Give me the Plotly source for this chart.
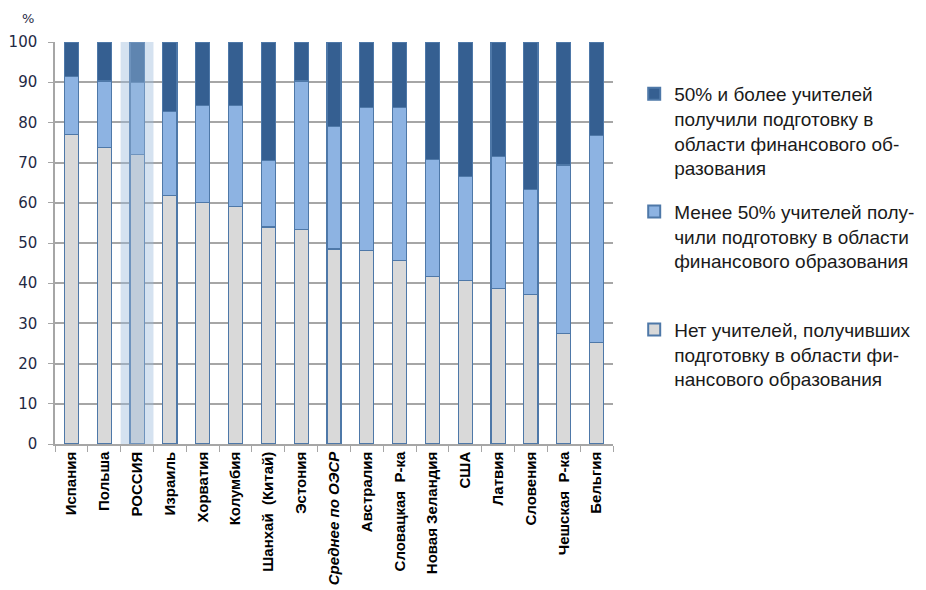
import plotly.graph_objects as go

categories = ["Испания", "Польша", "РОССИЯ", "Израиль", "Хорватия", "Колумбия",
              "Шанхай  (Китай)", "Эстония", "<i>Среднее по ОЭСР</i>", "Австралия",
              "Словацкая  Р-ка", "Новая Зеландия", "США", "Латвия", "Словения",
              "Чешская  Р-ка", "Бельгия"]

none_pct = [76.9, 73.8, 72.1, 61.8, 60.1, 59.0, 54.0, 53.4, 48.5, 48.1,
            45.6, 41.7, 40.6, 38.6, 37.1, 27.4, 25.3]
less_pct = [14.6, 16.5, 17.9, 21.0, 24.1, 25.2, 16.5, 36.9, 30.4, 35.6,
            38.1, 29.1, 26.0, 33.0, 26.3, 42.0, 51.5]
more_pct = [8.5, 9.7, 10.0, 17.2, 15.8, 15.8, 29.5, 9.7, 21.1, 16.3,
            16.3, 29.2, 33.4, 28.4, 36.6, 30.6, 23.2]

y_ticks = [0, 10, 20, 30, 40, 50, 60, 70, 80, 90, 100]

name_none = "Нет учителей, получивших<br>подготовку в области фи-<br>нансового образования"
name_less = "Менее 50% учителей полу-<br>чили подготовку в области<br>финансового образования<br> "
name_more = "50% и более учителей<br>получили подготовку в<br>области финансового об-<br>разования"

border = "#4e78a8"
fig = go.Figure()
fig.add_trace(go.Bar(x=categories, y=none_pct, name=name_none, legendgroup="g3", legendrank=3,
                     marker=dict(color="#d9d9d9", line=dict(color=border, width=1.2)),
                     width=0.43))
fig.add_trace(go.Bar(x=categories, y=less_pct, name=name_less, legendgroup="g2", legendrank=2,
                     marker=dict(color="#8db3e2", line=dict(color=border, width=1.2)),
                     width=0.43))
fig.add_trace(go.Bar(x=categories, y=more_pct, name=name_more, legendgroup="g1", legendrank=1,
                     marker=dict(color="#355f91", line=dict(color=border, width=1.2)),
                     width=0.43))

fig.add_shape(type="rect", xref="x", yref="y", x0=1.5, x1=2.5, y0=0, y1=100,
              fillcolor="rgba(155,186,219,0.42)", line=dict(width=0), layer="above")

fig.add_annotation(text="%", xref="paper", yref="paper", x=-0.048, y=1.035,
                   xanchor="center", yanchor="bottom", showarrow=False,
                   font=dict(family="DejaVu Sans, Verdana, sans-serif", size=13, color="#1f2a44"))

fig.update_layout(
    width=926, height=590,
    barmode="stack",
    plot_bgcolor="white", paper_bgcolor="white",
    margin=dict(l=47, r=321, t=34, b=154, autoexpand=False),
    bargap=0.57,
    showlegend=True,
    legend=dict(x=1.038, y=0.918, xanchor="left", yanchor="top",
                traceorder="grouped", valign="top",
                font=dict(family="Liberation Sans, Arial, sans-serif",
                          size=19, color="#1a1a1a"),
                itemsizing="constant", tracegroupgap=16, itemwidth=30),
    xaxis=dict(type="category", tickangle=-90, showgrid=False, automargin=False,
               showline=True, linecolor="#a6a6a6", linewidth=1.5,
               ticks="outside", tickson="boundaries", ticklen=6, tickcolor="#a6a6a6",
               tickfont=dict(family="Liberation Sans, Arial, sans-serif", size=15,
                             color="#000000", weight="bold")),
    yaxis=dict(range=[0, 100], tickvals=y_ticks, showgrid=True, automargin=False,
               gridcolor="#a6a6a6", gridwidth=1.5,
               showline=True, linecolor="#a6a6a6", linewidth=1.5,
               ticks="outside", ticklen=5, tickcolor="#a6a6a6",
               ticklabelstandoff=8,
               tickfont=dict(family="DejaVu Sans, Verdana, sans-serif", size=15, color="#1f2a44"),
               zeroline=False),
)

fig.write_html("out.html")
